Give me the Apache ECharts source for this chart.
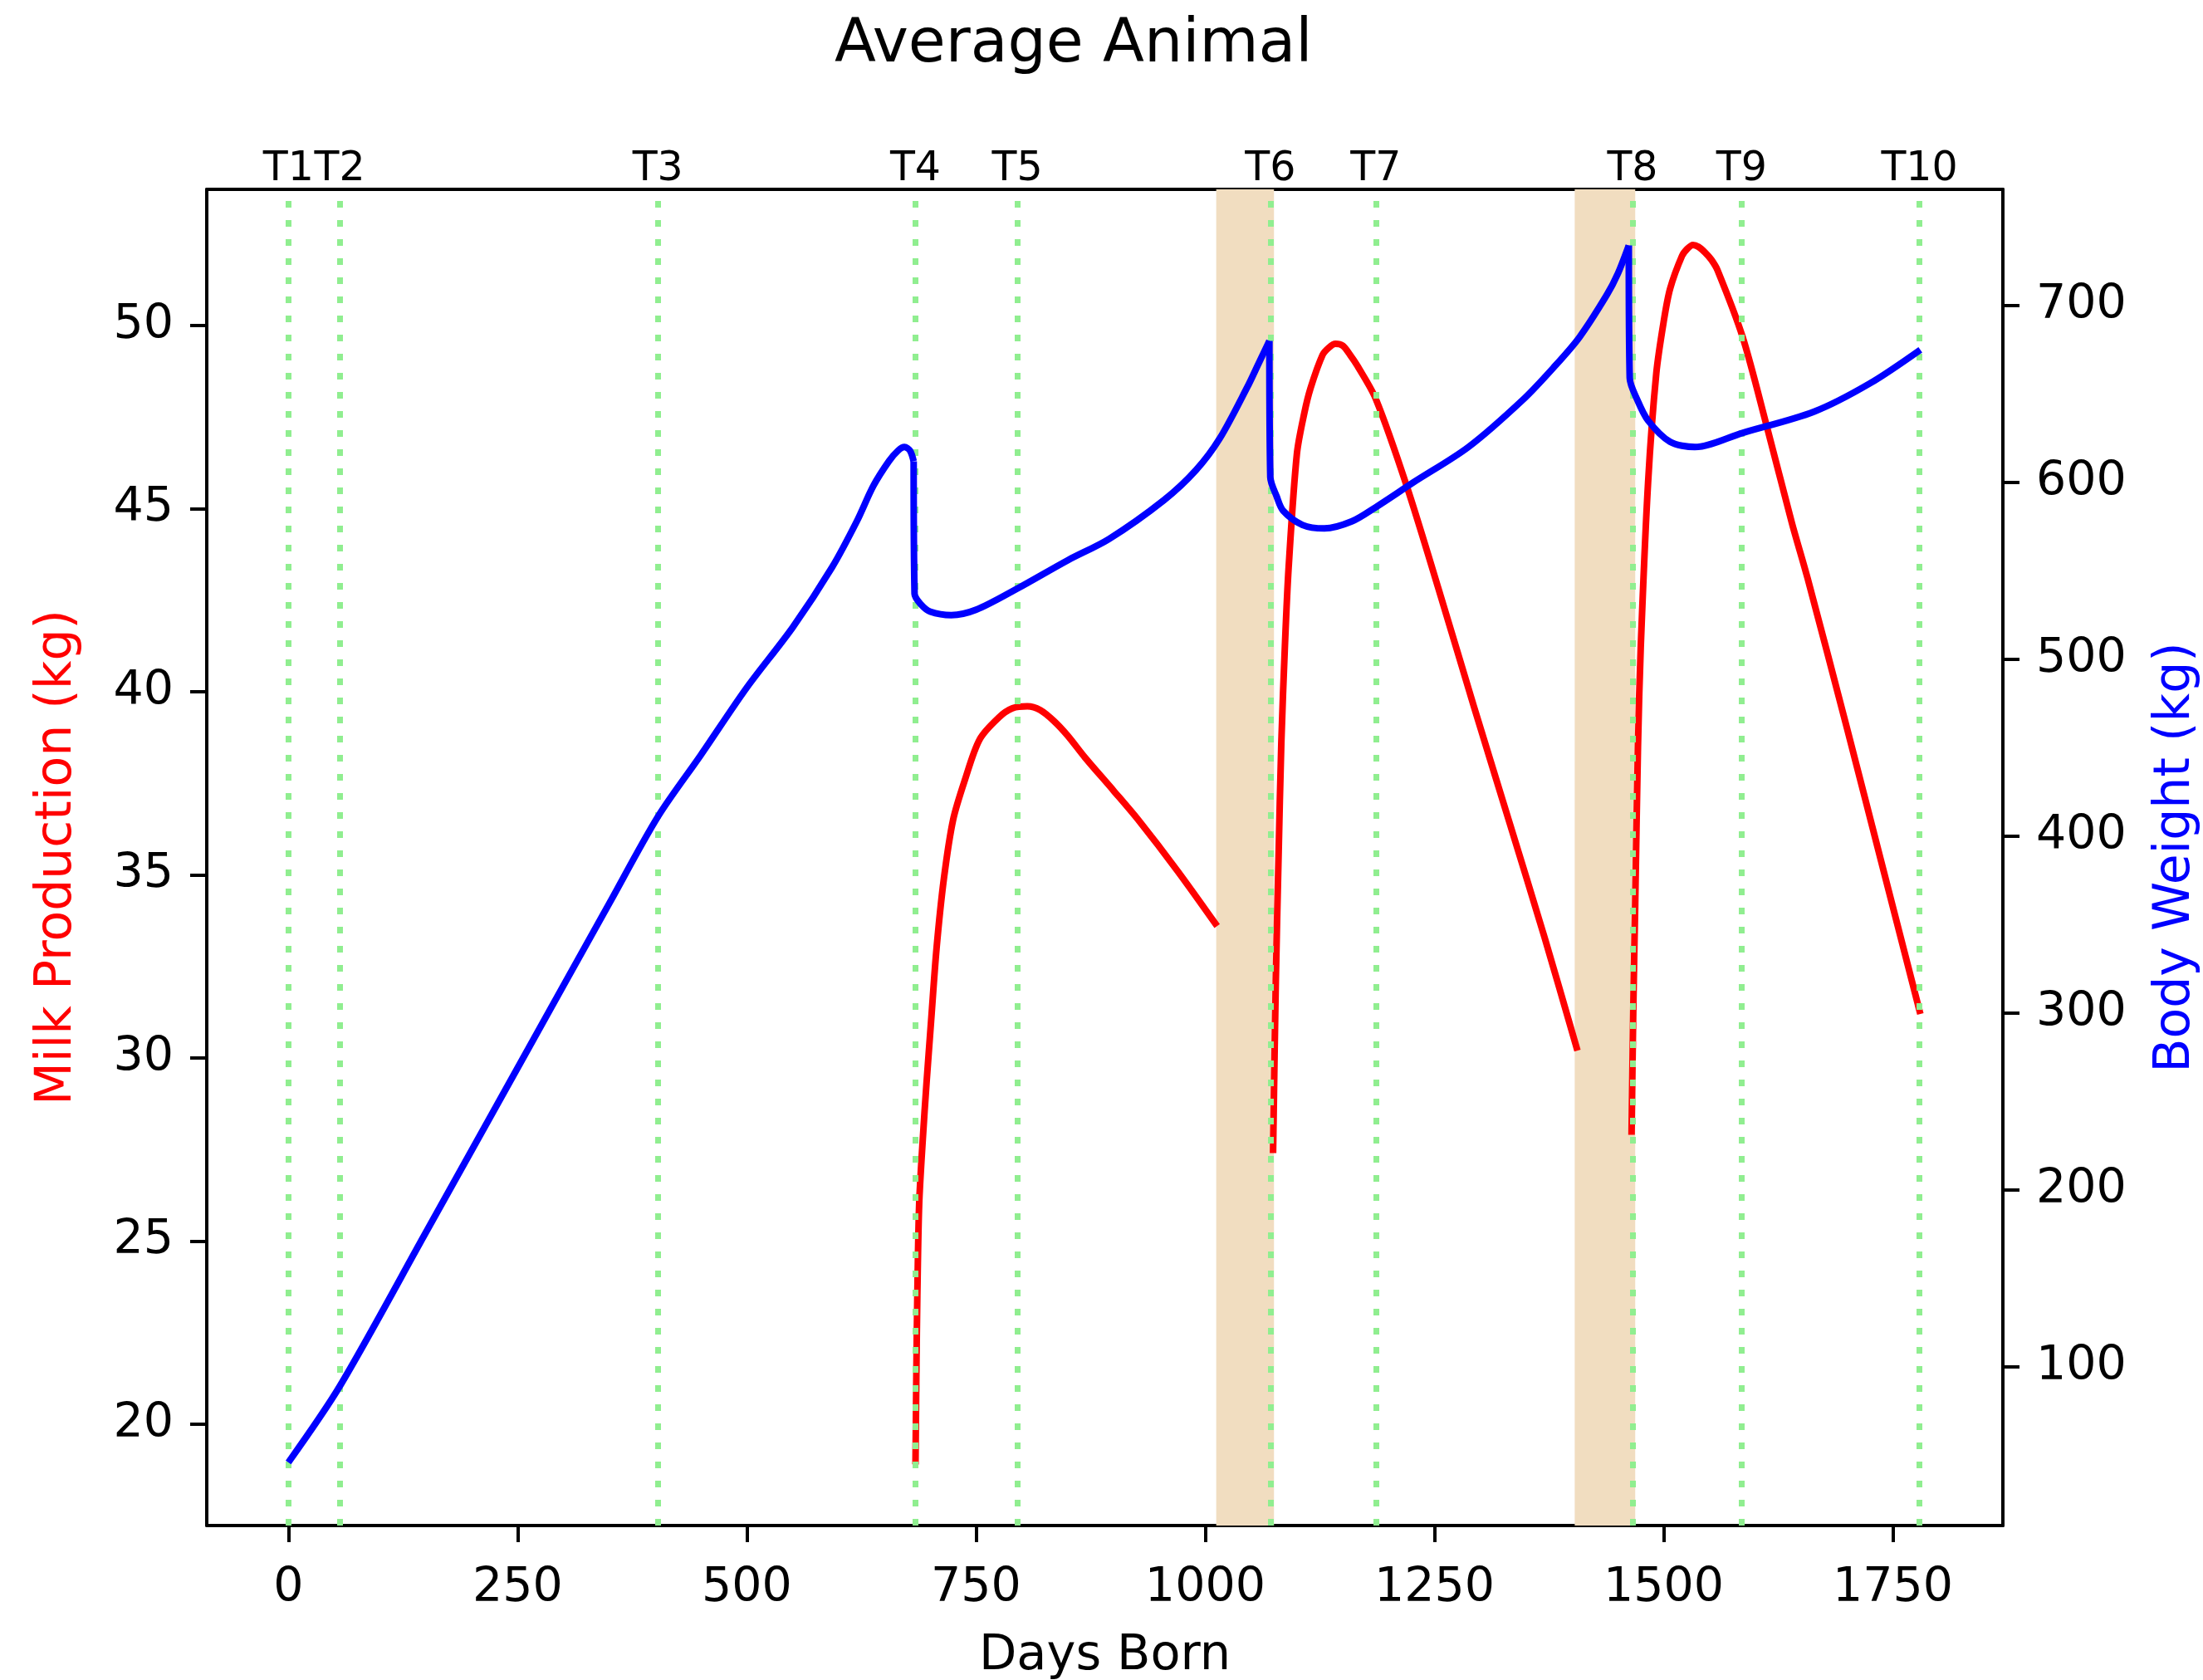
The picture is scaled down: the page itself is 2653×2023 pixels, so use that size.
<!DOCTYPE html>
<html>
<head>
<meta charset="utf-8">
<title>Average Animal</title>
<script src="https://cdn.jsdelivr.net/npm/echarts@6/dist/echarts.min.js"></script>
<style>
html,body{margin:0;padding:0;background:#fff;}
#chart{width:2653px;height:2023px;}
</style>
</head>
<body>
<div id="chart"></div>
<script>
// body weight (right axis)
var weightDays = [0, 56, 150, 250, 350, 403, 450, 500, 550, 593, 620, 638, 655, 665, 672, 678, 682, 683, 690, 700, 723, 750, 795, 850, 895, 955, 990, 1016, 1046, 1058, 1070, 1071, 1078, 1085, 1106, 1130, 1160, 1186, 1227, 1287, 1347, 1380, 1408, 1438, 1450, 1462, 1463, 1471, 1483, 1507, 1534, 1586, 1664, 1725, 1780];
var weightKg = [46, 89, 176, 269, 362, 411, 446, 484, 518, 552, 578, 598, 612, 618, 620, 618, 612, 537, 531, 527, 525, 528, 540, 556, 568, 590, 607, 625, 654, 667, 680, 603, 592, 584, 576, 574, 578, 586, 600, 620, 647, 665, 682, 706, 718, 734, 659, 647, 635, 623, 620, 628, 640, 656, 675];
// days where the weight curve has a sharp corner (calving drops)
var weightBreaks = [682, 1070, 1462];

// milk production (left axis), one array per lactation
var milkDays1 = [684, 685, 686, 688, 692, 696, 701, 707, 715, 725, 738, 754, 775, 790, 806, 820, 835, 850, 869, 900, 927, 970, 1013];
var milk1 = [18.9, 21.5, 23.5, 26.0, 27.8, 29.3, 31.0, 33.0, 34.9, 36.5, 37.6, 38.7, 39.3, 39.55, 39.6, 39.5, 39.2, 38.8, 38.2, 37.3, 36.5, 35.1, 33.6];
var milkDays2 = [1074, 1077, 1080, 1083, 1087, 1091, 1100, 1108, 1115, 1128, 1135, 1142, 1150, 1158, 1166, 1186, 1220, 1257, 1293, 1331, 1370, 1406];
var milk2 = [27.4, 32.1, 35.5, 38.6, 41.3, 43.4, 46.5, 47.6, 48.3, 49.2, 49.4, 49.5, 49.45, 49.2, 48.9, 48.0, 45.6, 42.6, 39.6, 36.5, 33.3, 30.2];
var milkDays3 = [1465, 1467, 1469, 1472, 1475, 1483, 1492, 1500, 1507, 1520, 1526, 1532, 1538, 1545, 1552, 1559, 1586, 1613, 1640, 1657, 1700, 1740, 1780];
var milk3 = [27.9, 31.5, 34.2, 38.5, 41.2, 45.7, 48.7, 50.1, 51.0, 51.9, 52.1, 52.2, 52.15, 52.0, 51.8, 51.5, 49.7, 47.2, 44.6, 43.1, 39.0, 35.1, 31.2];

// events and dry periods
var eventDays = [0, 56, 403, 684, 795, 1071, 1186, 1466, 1585, 1779];
var eventLabels = ['T1', 'T2', 'T3', 'T4', 'T5', 'T6', 'T7', 'T8', 'T9', 'T10'];
var dryStart = [1012, 1403];
var dryEnd = [1075, 1469];

// ticks
var xTicks = [0, 250, 500, 750, 1000, 1250, 1500, 1750];
var milkTicks = [20, 25, 30, 35, 40, 45, 50];
var weightTicks = [100, 200, 300, 400, 500, 600, 700];

function pairs(xs, ys) {
    return xs.map(function (x, i) { return [x, ys[i]]; });
}

// cut the weight curve into pieces at the sharp corners so smoothing doesn't round them
function weightPieces() {
    var pieces = [];
    var cur = [];
    weightDays.forEach(function (d, i) {
        cur.push([d, weightKg[i]]);
        if (weightBreaks.indexOf(d) >= 0) {
            pieces.push(cur);
            cur = [[d, weightKg[i]]];
        }
    });
    pieces.push(cur);
    return pieces;
}

var font = 'DejaVu Sans';
var axisLine = { show: true, onZero: false, lineStyle: { color: '#000', width: 4 } };
var tickStyle = { color: '#000', width: 4 };
var plainNum = function (v) { return String(v); };

var milkLine = function (xs, ys) {
    return {
        type: 'line',
        xAxisIndex: 0,
        yAxisIndex: 0,
        z: 2,
        data: pairs(xs, ys),
        smooth: 0.3,
        showSymbol: false,
        symbol: 'none',
        lineStyle: { color: '#ff0000', width: 8, join: 'round' }
    };
};

var weightLine = function (data) {
    return {
        type: 'line',
        xAxisIndex: 0,
        yAxisIndex: 1,
        z: 7,
        data: data,
        smooth: 0.3,
        showSymbol: false,
        symbol: 'none',
        lineStyle: { color: '#0000ff', width: 8, join: 'round' }
    };
};

var series = [
    {
        // dry periods
        type: 'line',
        xAxisIndex: 0,
        yAxisIndex: 0,
        z: 1,
        data: [],
        silent: true,
        markArea: {
            silent: true,
            z: 1,
            itemStyle: { color: '#f1ddc0', opacity: 1 },
            data: dryStart.map(function (s, i) { return [{ xAxis: s }, { xAxis: dryEnd[i] }]; })
        }
    },
    milkLine(milkDays1, milk1),
    milkLine(milkDays2, milk2),
    milkLine(milkDays3, milk3),
    {
        // event lines
        type: 'line',
        xAxisIndex: 0,
        yAxisIndex: 0,
        z: 3,
        data: [],
        silent: true,
        markLine: {
            silent: true,
            z: 3,
            symbol: 'none',
            lineStyle: { color: '#90ee90', width: 7, type: [8, 15], cap: 'butt' },
            label: {
                show: true,
                position: 'end',
                distance: -1,
                formatter: '{b}',
                fontFamily: font,
                fontSize: 49,
                color: '#000'
            },
            data: eventDays.map(function (d, i) { return { name: eventLabels[i], xAxis: d }; })
        }
    }
];
weightPieces().forEach(function (p) { series.push(weightLine(p)); });

var option = {
    animation: false,
    backgroundColor: '#fff',
    title: {
        text: 'Average Animal',
        left: 1005,
        top: 19,
        padding: 0,
        textStyle: { fontFamily: font, fontSize: 73, fontWeight: 'normal', color: '#000' }
    },
    grid: { left: 249, right: 241, top: 228, bottom: 186, containLabel: false, outerBoundsMode: 'none' },
    xAxis: [
        {
            type: 'value',
            position: 'bottom',
            min: -89,
            max: 1870,
            axisLine: axisLine,
            axisTick: { show: true, length: 20, lineStyle: tickStyle, customValues: xTicks },
            axisLabel: { customValues: xTicks, formatter: plainNum, fontFamily: font, fontSize: 57, color: '#000', margin: 48 },
            splitLine: { show: false },
            name: 'Days Born',
            nameLocation: 'middle',
            nameGap: 128,
            nameTextStyle: { fontFamily: font, fontSize: 59, color: '#000' }
        },
        {
            type: 'value',
            position: 'top',
            min: -89,
            max: 1870,
            axisLine: axisLine,
            axisTick: { show: false },
            axisLabel: { show: false },
            splitLine: { show: false }
        }
    ],
    yAxis: [
        {
            type: 'value',
            position: 'left',
            min: 17.23,
            max: 53.72,
            axisLine: axisLine,
            axisTick: { show: true, length: 20, lineStyle: tickStyle, customValues: milkTicks },
            axisLabel: { customValues: milkTicks, formatter: plainNum, fontFamily: font, fontSize: 57, color: '#000', margin: 40 },
            splitLine: { show: false },
            name: 'Milk Production (kg)',
            nameLocation: 'middle',
            nameRotate: 90,
            nameGap: 150,
            nameTextStyle: { fontFamily: font, fontSize: 60, color: '#ff0000' }
        },
        {
            type: 'value',
            position: 'right',
            min: 10.3,
            max: 765.7,
            axisLine: axisLine,
            axisTick: { show: true, length: 20, lineStyle: tickStyle, customValues: weightTicks },
            axisLabel: { customValues: weightTicks, formatter: plainNum, fontFamily: font, fontSize: 57, color: '#000', margin: 40 },
            splitLine: { show: false },
            name: 'Body Weight (kg)',
            nameLocation: 'middle',
            nameRotate: 90,
            nameGap: 178,
            nameTextStyle: { fontFamily: font, fontSize: 60, color: '#0000ff' }
        }
    ],
    series: series
};

var myChart = echarts.init(document.getElementById('chart'));
myChart.setOption(option);
</script>
</body>
</html>
